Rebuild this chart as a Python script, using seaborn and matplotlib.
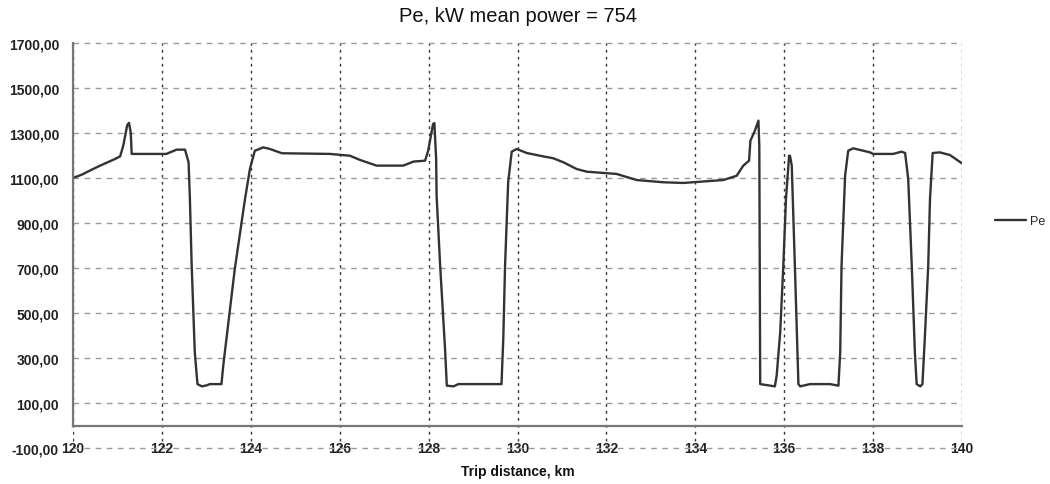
import seaborn as sns
import pandas as pd
import matplotlib.pyplot as plt
from matplotlib.ticker import MultipleLocator, FuncFormatter

# Trip distance (km) and engine power Pe (kW)
dist = [120.00, 120.20, 120.38, 120.61, 120.94, 121.06, 121.13, 121.22, 121.26, 121.30,
        121.32, 122.10, 122.33, 122.52, 122.60, 122.63, 122.67, 122.74, 122.80, 122.90,
        123.00, 123.08, 123.34, 123.38, 123.64, 123.87, 123.98, 124.09, 124.28, 124.43,
        124.70, 125.78, 126.23, 126.46, 126.83, 127.43, 127.66, 127.92, 127.99, 128.10,
        128.13, 128.17, 128.18, 128.26, 128.37, 128.41, 128.56, 128.67, 129.64, 129.68,
        129.72, 129.79, 129.87, 129.98, 130.21, 130.58, 130.80, 131.03, 131.33, 131.56,
        132.23, 132.68, 133.28, 133.73, 134.63, 134.93, 135.08, 135.21, 135.24, 135.34,
        135.42, 135.44, 135.46, 135.79, 135.83, 135.91, 135.98, 136.04, 136.11, 136.13,
        136.17, 136.24, 136.32, 136.36, 136.58, 137.03, 137.22, 137.26, 137.29, 137.37,
        137.44, 137.55, 137.93, 138.00, 138.45, 138.64, 138.72, 138.79, 138.87, 138.94,
        138.98, 139.06, 139.11, 139.17, 139.24, 139.28, 139.34, 139.50, 139.73, 140.00]
power = [1100, 1115, 1133, 1155, 1184, 1196, 1243, 1335, 1345, 1300,
         1207, 1207, 1226, 1226, 1170, 1007, 710, 325, 184, 174,
         178, 184, 184, 266, 696, 1007, 1140, 1221, 1236, 1229,
         1210, 1207, 1199, 1180, 1155, 1155, 1173, 1177, 1221, 1340,
         1344, 1184, 1021, 710, 340, 177, 174, 184, 184, 384,
         710, 1081, 1217, 1229, 1211, 1196, 1188, 1170, 1140, 1128,
         1118, 1091, 1081, 1078, 1091, 1110, 1155, 1177, 1266, 1310,
         1355, 1244, 184, 174, 221, 414, 710, 1007, 1199, 1199,
         1155, 710, 184, 174, 184, 184, 177, 325, 710, 1110,
         1221, 1232, 1214, 1207, 1207, 1217, 1211, 1096, 710, 325,
         184, 174, 184, 414, 710, 1007, 1211, 1214, 1202, 1165]

mean_power = 754
xticks = list(range(120, 141, 2))
yticks = list(range(-100, 1701, 200))

df = pd.DataFrame({"dist": dist, "Pe": power})

sns.set_style("white")
plt.rcParams["font.family"] = ["Liberation Sans", "DejaVu Sans"]

fig = plt.figure(figsize=(10.5, 4.85), dpi=100)
ax = fig.add_axes([73 / 1050, 1 - 449 / 485, 889 / 1050, 405 / 485])

sns.lineplot(data=df, x="dist", y="Pe", ax=ax, color="#333333", lw=1.7,
             estimator=None, sort=False, label="Pe")
ax.get_legend().remove()

ax.set_xlim(120, 140)
ax.set_ylim(-100, 1700)
ax.set_xticks(xticks)
ax.set_yticks(yticks)
ax.xaxis.set_minor_locator(MultipleLocator(0.4))
ax.yaxis.set_major_formatter(FuncFormatter(lambda v, p: f"{v:.2f}".replace(".", ",")))
ax.xaxis.set_major_formatter(FuncFormatter(lambda v, p: f"{v:.0f}"))

# grid: dotted verticals, dashed horizontals
ax.xaxis.grid(True, color="#333333", linestyle=(0, (2, 3)), lw=1)
ax.yaxis.grid(True, color="#999999", linestyle=(0, (4, 4)), lw=1)
ax.set_axisbelow(True)
for gl in ax.get_xgridlines() + ax.get_ygridlines():
    gl.set_clip_on(False)

for s in ["top", "right"]:
    ax.spines[s].set_visible(False)
ax.spines["bottom"].set_position(("data", 0))
ax.spines["bottom"].set_color("#777777")
ax.spines["bottom"].set_linewidth(1.6)
ax.spines["left"].set_bounds(0, 1700)
ax.spines["left"].set_color("#777777")
ax.spines["left"].set_linewidth(1.6)

ax.tick_params(axis="x", which="major", direction="in", length=5, width=1.3,
               color="#555555", pad=11, labelsize=10, labelcolor="#222222")
ax.tick_params(axis="x", which="minor", direction="in", length=5, width=1.2,
               color="#666666")
ax.tick_params(axis="y", which="major", direction="out", length=3, width=1,
               color="#777777", pad=7, labelsize=10, labelcolor="#222222")
for lbl in ax.get_xticklabels() + ax.get_yticklabels():
    lbl.set_fontweight("bold")

ax.set_xlabel("")
ax.set_ylabel("")
fig.text(518 / 1050, 1 - 17 / 485, f"Pe, kW mean power = {mean_power}",
         ha="center", va="center", fontsize=14.5, color="#111111")
fig.text(518 / 1050, 1 - 472 / 485, "Trip distance, km", ha="center", va="center",
         fontsize=10, fontweight="bold", color="#111111")

handles, labels = ax.get_legend_handles_labels()
fig.legend(handles, labels, loc="center left", bbox_to_anchor=(995 / 1050, 1 - 222 / 485),
           frameon=False, fontsize=9, handlelength=2.5, handletextpad=0.3,
           borderaxespad=0, borderpad=0)

fig.savefig("out.png", dpi=100)
